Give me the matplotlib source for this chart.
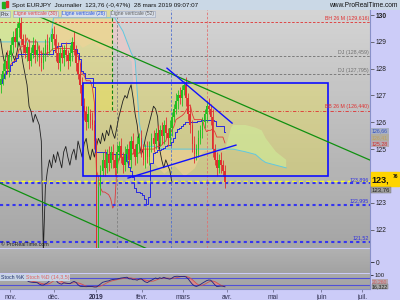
import numpy as np
import pandas as pd
import matplotlib
matplotlib.use("Agg")
import matplotlib.pyplot as plt
from matplotlib.colors import LinearSegmentedColormap

plt.rcParams["font.family"] = ["Liberation Sans", "DejaVu Sans"]

# daily closes, one per trading day (25 oct 2018 -> 28 mars 2019)
closes = [127.6, 127.9, 128.3, 128.0, 128.5, 128.9, 129.2, 129.0, 129.5, 129.7,
          129.1, 128.9, 128.6, 128.8, 128.3, 128.6, 128.9, 128.5, 128.7, 128.4,
          128.2, 128.6, 128.9, 128.7, 129.0, 129.3, 129.1, 128.6, 128.2, 128.6,
          128.4, 128.7, 128.5, 128.3, 128.6, 129.0, 128.7, 128.2, 127.8, 127.4,
          126.6, 126.4, 126.0, 126.3, 126.1, 125.9, 125.3, 121.2, 123.6, 124.2,
          124.6, 124.3, 124.8, 124.5, 124.9, 124.6, 124.3, 124.9, 125.1, 124.7,
          124.4, 124.8, 125.0, 124.6, 125.3, 125.0, 124.7, 125.2, 125.4, 124.9,
          124.6, 125.0, 124.7, 125.1, 125.4, 125.2, 125.6, 125.3, 125.7, 125.5,
          125.9, 125.6, 125.4, 125.8, 126.2, 126.5, 126.8, 127.0, 126.9, 127.2,
          127.4, 126.9, 126.3, 125.9, 125.2, 124.8, 125.0, 125.4, 125.7, 126.0,
          126.3, 126.6, 126.5, 126.2, 125.0, 124.6, 124.3, 124.6, 124.4, 124.2, 123.76]
first_open = 127.4
wick_up = [0.2, 0.3, 0.2, 0.4, 0.2, 0.3, 0.2, 0.3, 0.2, 0.3,
           0.3, 0.2, 0.4, 0.2, 0.3, 0.2, 0.3, 0.2, 0.3, 0.2,
           0.3, 0.2, 0.2, 0.4, 0.2, 0.2, 0.3, 0.2, 0.4, 0.2,
           0.3, 0.2, 0.3, 0.2, 0.3, 0.2, 0.4, 0.2, 0.3, 0.4,
           0.3, 0.3, 0.2, 0.3, 0.2, 0.3, 0.2, 0.1, 0.3, 0.2,
           0.3, 0.4, 0.2, 0.3, 0.2, 0.3, 0.2, 0.3, 0.2, 0.3,
           0.2, 0.3, 0.2, 0.3, 0.2, 0.3, 0.2, 0.3, 0.2, 0.3,
           0.3, 0.2, 0.3, 0.2, 0.2, 0.3, 0.2, 0.3, 0.2, 0.3,
           0.2, 0.3, 0.2, 0.3, 0.2, 0.2, 0.3, 0.2, 0.3, 0.2,
           0.15, 0.3, 0.2, 0.3, 0.2, 0.3, 0.2, 0.3, 0.2, 0.2,
           0.2, 0.2, 0.3, 0.2, 0.3, 0.2, 0.3, 0.2, 0.3, 0.2, 0.2]
wick_dn = [0.3, 0.2, 0.3, 0.2, 0.3, 0.2, 0.3, 0.2, 0.2, 0.3,
           0.2, 0.3, 0.2, 0.3, 0.3, 0.2, 0.2, 0.3, 0.2, 0.3,
           0.3, 0.2, 0.3, 0.2, 0.2, 0.3, 0.2, 0.3, 0.2, 0.3,
           0.2, 0.3, 0.2, 0.3, 0.2, 0.3, 0.2, 0.3, 0.2, 0.3,
           0.4, 0.3, 0.3, 0.2, 0.3, 0.2, 0.3, 1.0, 0.5, 0.3,
           0.2, 0.3, 0.2, 0.3, 0.2, 0.3, 0.3, 0.2, 0.3, 0.2,
           0.3, 0.2, 0.3, 0.2, 0.3, 0.2, 0.3, 0.2, 0.3, 0.2,
           0.2, 0.3, 0.2, 0.3, 0.2, 0.3, 0.2, 0.3, 0.2, 0.3,
           0.3, 0.2, 0.3, 0.2, 0.3, 0.2, 0.2, 0.3, 0.2, 0.3,
           0.2, 0.3, 0.2, 0.3, 0.3, 0.3, 0.2, 0.3, 0.2, 0.3,
           0.2, 0.3, 0.2, 0.3, 0.3, 0.2, 0.3, 0.2, 0.3, 0.2, 0.2]

month_pos = [4.7, 26.2, 46.8, 69.4, 89.5, 111.0, 133.6, 157.1, 177.2]
month_lbl = ["nov.", "déc.", "2019", "févr.", "mars", "avr.", "mai", "juin", "juil."]

# ichimoku cloud edges
cloud_pos = [-1, 24, 25, 26, 30, 35, 40, 45, 50, 54, 56, 60, 64, 66, 68, 70, 75, 80,
             85, 90, 95, 98, 100, 105, 110, 113, 114, 120, 125, 128, 130, 135, 140]
span_a = [130.4, 130.4, 130.3, 129.1, 128.9, 129.2, 128.8, 129.0, 128.7, 128.9, 129.0,
          128.5, 128.3, 126.5, 125.0, 124.3, 124.5, 124.1, 124.4, 124.0, 124.3, 124.8,
          124.95, 124.95, 124.95, 125.8, 125.9, 125.9, 125.8, 125.7, 125.4, 124.9, 124.6]
span_b = [129.0, 129.0, 129.4, 129.9, 129.9, 129.9, 129.9, 129.9, 129.9, 129.9, 129.9,
          129.4, 128.6, 128.3, 126.0, 125.1, 125.1, 125.0, 125.0, 125.0, 125.0, 125.0,
          125.0, 125.0, 125.0, 125.0, 125.0, 124.9, 124.8, 124.6, 124.5, 124.4, 124.3]

hl_levels = [129.75, 128.459, 127.795, 126.44]
hl_labels = ["BH 26 M (129,616)", "DJ (128,459)", "DJ (127,795)", "BB 26 M (126,440)"]
hl_colors = ["#e03030", "#707070", "#707070", "#e03030"]
blue_levels = [123.72, 122.93, 121.53]
blue_labels = ["123,896", "122,995", "121,52"]
yellow_level = 123.80

vlines_pos = [57.1, 83.6, 101.2]
vlines_col = ["#808080", "#5070d0", "#e07070"]


def fx(px):
    return px / 400


def fy(py):
    return 1 - py / 300


n = len(closes)
pos = np.arange(n)
c = np.array(closes)
o = np.concatenate([[first_open], c[:-1]])
hi = np.maximum(o, c) + np.array(wick_up)
lo = np.minimum(o, c) - np.array(wick_dn)
df = pd.DataFrame({"o": o, "h": hi, "l": lo, "c": c})

tenkan = (df.h.rolling(9, min_periods=1).max() + df.l.rolling(9, min_periods=1).min()) / 2
kijun = (df.h.rolling(26, min_periods=1).max() + df.l.rolling(26, min_periods=1).min()) / 2
ll = df.l.rolling(14, min_periods=1).min()
hh = df.h.rolling(14, min_periods=1).max()
k_raw = 100 * (df.c - ll) / (hh - ll).replace(0, np.nan)
stoch_k = k_raw.rolling(3, min_periods=1).mean()
stoch_d = stoch_k.rolling(5, min_periods=1).mean()

fig = plt.figure(figsize=(4, 3), dpi=100, facecolor="#ccccf8")
XL = (-0.25, 181.1)


def gradient(ax, top, bottom, y0, y1):
    cm = LinearSegmentedColormap.from_list("g", [bottom, top])
    ax.imshow(np.linspace(0, 1, 50).reshape(-1, 1), extent=[XL[0], XL[1], y0, y1],
              origin="lower", aspect="auto", cmap=cm, zorder=0)


# title bar
tb = fig.add_axes([0, fy(10), 1, 10 / 300])
tb.set_facecolor("#cad8e6")
tb.set_xticks([])
tb.set_yticks([])
for s in tb.spines.values():
    s.set_visible(False)
tb.add_patch(plt.Rectangle((0.006, 0.2), 0.006, 0.6, color="#20b020", transform=tb.transAxes))
tb.add_patch(plt.Rectangle((0.014, 0.3), 0.006, 0.6, color="#e03030", transform=tb.transAxes))
tb.text(0.03, 0.5, "Spot EURJPY  Journalier  123,76 (-0,47%)  28 mars 2019 09:07:07",
        fontsize=4.5, va="center", color="#101010")
tb.text(0.995, 0.45, "www.ProRealTime.com", fontsize=4.8, va="center", ha="right", color="#101010")

# main price panel
ax = fig.add_axes([0, fy(248), 0.925, 238 / 300])
YL = (121.31, 130.19)
gradient(ax, "#d4d4d4", "#a6a6a6", YL[0], YL[1])

ax.fill_between(cloud_pos, span_a, span_b, where=np.array(span_a) >= np.array(span_b),
                color="#bcf2cc", alpha=0.6, lw=0, zorder=1, interpolate=True)
ax.fill_between(cloud_pos, span_a, span_b, where=np.array(span_a) < np.array(span_b),
                color="#f6c8c8", alpha=0.55, lw=0, zorder=1, interpolate=True)
ax.plot(cloud_pos, span_b, color="#60c8e0", lw=0.7, zorder=3)

# user rectangles
ax.add_patch(plt.Rectangle((-1, 126.46), 55.9, 4.0, color="#f2e640", alpha=0.36, lw=0, zorder=2))
ax.add_patch(plt.Rectangle((40.4, 123.99), 120.1, 3.47, facecolor="#f2e640", alpha=0.36,
                           lw=0, zorder=2))
ax.add_patch(plt.Rectangle((40.4, 123.99), 120.1, 3.47, facecolor="none", edgecolor="#1010ff",
                           lw=1.2, zorder=6))

for lvl, col in zip(hl_levels, hl_colors):
    ls = (0, (4, 2, 1, 2)) if lvl == 126.44 else (0, (3, 2))
    ax.axhline(lvl, color=col, lw=0.6, ls=ls, zorder=3)
ax.axhline(yellow_level, color="#ffff20", lw=1.0, ls=(0, (3, 2)), zorder=5)
for lvl in blue_levels:
    ax.axhline(lvl, color="#3535f0", lw=1.5, ls=(0, (1.5, 1.5)), zorder=5)

for p, col in zip(vlines_pos, vlines_col):
    ax.axvline(p, color=col, lw=0.6, ls=(0, (3, 2)), zorder=3)
ax.plot([54.7, 54.7], [126.46, 130.3], color="#108010", lw=0.8, ls=(0, (3, 2)), zorder=3)

# chikou, tenkan, kijun
ax.plot(pos[26:] - 26, c[26:], color="#202020", lw=0.6, zorder=3)
ax.plot(pos, tenkan, color="#e03838", lw=0.6, zorder=4)
ax.step(pos, kijun, where="mid", color="#2828e0", lw=0.7, zorder=4)

# candles
up = c >= o
cols = np.where(up, "#22c022", "#e03030")
ax.vlines(pos, lo, hi, colors=cols, lw=0.6, zorder=5)
ax.bar(pos, np.where(np.abs(c - o) < 0.04, 0.04, c - o), bottom=o, width=0.75,
       color=cols, lw=0, zorder=5)

# trend lines
ax.plot([19.4, 181.1], [129.93, 124.59], color="#109010", lw=0.9, zorder=6)
ax.plot([-0.25, 73.3], [123.73, 121.23], color="#109010", lw=0.9, zorder=6)
ax.plot([81.6, 113.5], [128.02, 125.97], color="#1010ff", lw=1.0, zorder=6)
ax.plot([62.5, 115.4], [123.92, 125.15], color="#1010ff", lw=1.0, zorder=6)

for lvl, lab, col in zip(hl_levels, hl_labels, hl_colors):
    ax.text(180.5, lvl + 0.04, lab, fontsize=3.8, color=col, ha="right", va="bottom", zorder=7)
for lvl, lab in zip(blue_levels, blue_labels):
    ax.text(180.5, lvl + 0.05, lab, fontsize=3.8, color="#3030e0", ha="right", va="bottom", zorder=7)
ax.text(0.003, 0.008, "© ProRealTime.com", fontsize=3.8, color="#202020",
        transform=ax.transAxes, zorder=7)

ax.set_xlim(*XL)
ax.set_ylim(*YL)
ax.yaxis.tick_right()
ax.set_yticks(range(122, 131))
# the 124 label sits under the last-price box
ax.set_yticklabels(["" if v == 124 else str(v) for v in range(122, 131)],
                   fontsize=4.8, color="#202020")
ax.get_yticklabels()[-1].set_fontweight("bold")
ax.tick_params(axis="y", length=3, width=0.5, pad=1, color="#404040")
ax.set_xticks([])
for s in ["top", "left", "bottom"]:
    ax.spines[s].set_visible(False)
ax.spines["right"].set_color("#8890c8")

# legend row
leg = [("Prix", "#303030", 1), ("Ligne verticale (30)", "#e04040", 14),
       ("Ligne verticale (26)", "#2050e0", 62), ("Ligne verticale (52)", "#606060", 111)]
for txt, col, x in leg:
    fig.text(fx(x), fy(14), txt, fontsize=3.6, color=col, va="center",
             bbox=dict(boxstyle="square,pad=0.15", fc="#d8dee8", ec="#98a4c0", lw=0.4))

# right-axis value boxes
fig.text(fx(372), fy(131), "126,66", fontsize=3.8, color="#3050c0", va="center",
         bbox=dict(boxstyle="square,pad=0.1", fc="#a8b0c4", ec="none"))
fig.text(fx(372), fy(137.5), "126,41", fontsize=3.8, color="#c0a060", va="center",
         bbox=dict(boxstyle="square,pad=0.1", fc="#b0aca0", ec="none"))
fig.text(fx(372), fy(144), "125,28", fontsize=3.8, color="#d03030", va="center",
         bbox=dict(boxstyle="square,pad=0.1", fc="#b8a8b0", ec="none"))
fig.patches.append(plt.Rectangle((fx(371), fy(186)), fx(28), 14 / 300, color="#ffd400",
                                 transform=fig.transFigure, figure=fig))
fig.text(fx(371.5), fy(179.5), "123,", fontsize=6.5, fontweight="bold", color="#101010",
         va="center")
fig.text(fx(392.5), fy(176), "76", fontsize=3.6, fontweight="bold", color="#101010", va="center")
fig.text(fx(372), fy(190), "123,76", fontsize=4.3, color="#202020", va="center",
         bbox=dict(boxstyle="square,pad=0.1", fc="#a0a0a0", ec="#707070", lw=0.3))

# middle (empty) panel
mid = fig.add_axes([0, fy(273), 0.925, 24 / 300])
gradient(mid, "#b2b2b2", "#a2a2a2", 0, 1)
mid.set_xlim(*XL)
mid.set_ylim(0, 1)
mid.set_xticks([])
mid.yaxis.tick_right()
mid.set_yticks([0.45])
mid.set_yticklabels(["0"], fontsize=4.8, color="#202020")
mid.tick_params(axis="y", length=3, width=0.5, pad=1)
for s in ["top", "left", "bottom"]:
    mid.spines[s].set_visible(False)
mid.spines["right"].set_color("#8890c8")

# stochastic panel
st = fig.add_axes([0, fy(289), 0.925, 15 / 300])
gradient(st, "#aaaaaa", "#a4a4a4", -8, 108)
st.fill_between(pos, stoch_k, stoch_d, where=stoch_k < stoch_d, color="#f08080",
                alpha=0.7, lw=0, interpolate=True, zorder=2)
st.plot(pos, stoch_d, color="#d05050", lw=0.6, zorder=3)
st.plot(pos, stoch_k, color="#202080", lw=0.6, zorder=3)
st.axhline(80, color="#5050d8", lw=0.8, zorder=2)
st.axhline(20, color="#5050d8", lw=0.8, zorder=2)
st.set_xlim(*XL)
st.set_ylim(-8, 108)
st.yaxis.tick_right()
st.set_yticks([100])
st.set_yticklabels(["100"], fontsize=4.3, color="#202020")
st.tick_params(axis="y", length=2, width=0.5, pad=1)
st.set_xticks(month_pos)
st.set_xticklabels(month_lbl, fontsize=4.8, color="#303050")
st.get_xticklabels()[2].set_fontweight("bold")
st.tick_params(axis="x", length=2, width=0.5, pad=1.5, color="#606080")
for s in ["top", "left"]:
    st.spines[s].set_visible(False)
st.spines["right"].set_color("#8890c8")
st.spines["bottom"].set_color("#8890c8")
fig.text(fx(1), fy(277.5), "Stoch %K", fontsize=3.8, color="#203070", va="center",
         bbox=dict(boxstyle="square,pad=0.1", fc="#c8d4e4", ec="none"))
fig.text(fx(26), fy(277.5), "Stoch %D (14,3,5)", fontsize=3.8, color="#e06060", va="center",
         bbox=dict(boxstyle="square,pad=0.1", fc="#c8d4e4", ec="none"))
fig.text(fx(372), fy(281.5), "20,260", fontsize=3.6, color="#d06060", va="center",
         bbox=dict(boxstyle="square,pad=0.05", fc="#b8a8b0", ec="none"))
fig.text(fx(372), fy(286.5), "16,322", fontsize=3.8, color="#202020", va="center",
         bbox=dict(boxstyle="square,pad=0.05", fc="#a8a8a8", ec="#707070", lw=0.3))

fig.savefig("out.png", dpi=100, facecolor=fig.get_facecolor())
